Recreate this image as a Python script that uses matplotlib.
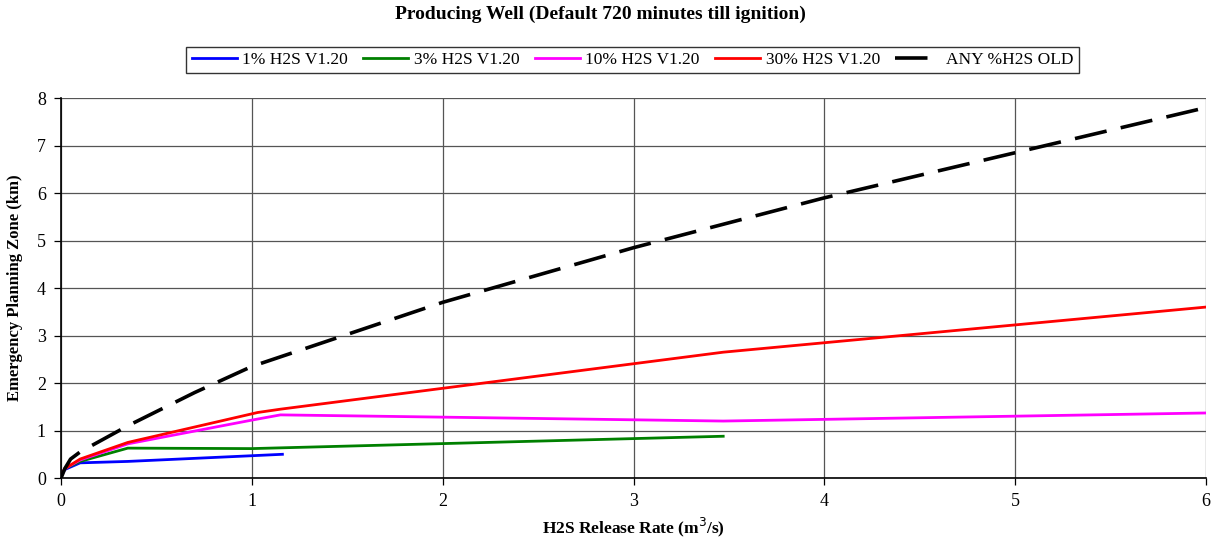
import matplotlib.pyplot as plt

plt.rcParams['font.family'] = ['Liberation Serif', 'DejaVu Serif']

# H2S release rate (m3/s) vs emergency planning zone (km)
x_1pct = [0, 0.02, 0.1, 0.35, 1.0, 1.16]
y_1pct = [0.05, 0.18, 0.32, 0.35, 0.47, 0.5]

x_3pct = [0, 0.02, 0.1, 0.35, 1.0, 3.47]
y_3pct = [0.05, 0.2, 0.35, 0.63, 0.62, 0.88]

x_10pct = [0, 0.02, 0.1, 0.35, 1.0, 1.15, 3.47, 6.0]
y_10pct = [0.05, 0.2, 0.38, 0.72, 1.22, 1.33, 1.2, 1.37]

x_30pct = [0, 0.02, 0.1, 0.35, 1.03, 1.15, 3.47, 6.0]
y_30pct = [0.05, 0.2, 0.4, 0.75, 1.38, 1.45, 2.65, 3.6]

x_old = [0, 0.02, 0.05, 0.1, 0.35, 0.7, 1.0, 2.0, 3.0, 4.0, 5.0, 6.0]
y_old = [0, 0.2, 0.4, 0.55, 1.1, 1.8, 2.35, 3.7, 4.85, 5.9, 6.85, 7.8]

fig = plt.figure(figsize=(12.21, 5.42), dpi=100)
ax = fig.add_axes([0.05, 0.118, 0.9377, 0.701])

ax.plot(x_1pct, y_1pct, color='#0000ff', lw=2, label='1% H2S V1.20')
ax.plot(x_3pct, y_3pct, color='#008000', lw=2, label='3% H2S V1.20')
ax.plot(x_10pct, y_10pct, color='#ff00ff', lw=2, label='10% H2S V1.20')
ax.plot(x_30pct, y_30pct, color='#ff0000', lw=2, label='30% H2S V1.20')
ax.plot(x_old, y_old, color='black', lw=2.6, dashes=(9, 4), label='ANY %H2S OLD')

ax.set_xlim(0, 6)
ax.set_ylim(0, 8)
ax.set_xticks(range(0, 7))
ax.set_yticks(range(0, 9))
ax.grid(True, color='#555555', lw=0.9)
ax.tick_params(labelsize=13, length=5, width=0.9, direction='out', pad=6)
for side in ['top', 'right']:
    ax.spines[side].set_visible(False)
ax.spines['left'].set_linewidth(1.2)
ax.spines['bottom'].set_linewidth(1.2)

ax.set_xlabel('H2S Release Rate (m$^3$/s)', fontsize=12.5, fontweight='bold', labelpad=4)
ax.set_ylabel('Emergency Planning Zone (km)', fontsize=12, fontweight='bold', labelpad=10)

fig.suptitle('Producing Well (Default 720 minutes till ignition)', fontsize=14,
             fontweight='bold', x=0.492, y=0.99)

leg = fig.legend(loc='center', bbox_to_anchor=(0.518, 0.889), ncol=5, fontsize=12.5,
                 frameon=True, fancybox=False, edgecolor='black', handlelength=2.6,
                 handletextpad=0.3, columnspacing=0.9, borderpad=0.3)
leg.get_frame().set_linewidth(1.0)

fig.savefig('out.png', dpi=100)
